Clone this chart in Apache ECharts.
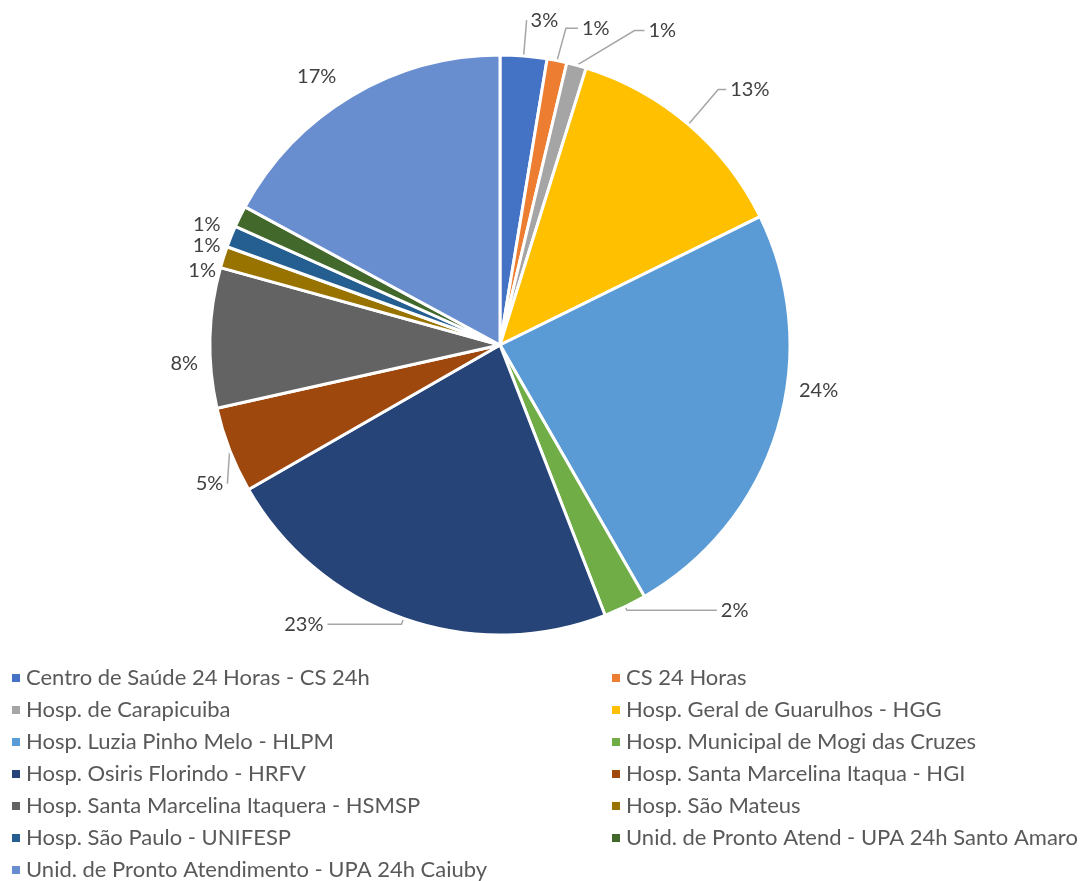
<!DOCTYPE html>
<html lang="pt-BR" style="height: 100%">
<head>
  <meta charset="utf-8">
</head>
<body style="height: 100%; margin: 0; background: #fff">
  <div id="container" style="width: 1084px; height: 881px"></div>

  <script type="text/javascript" src="https://fastly.jsdelivr.net/npm/echarts@6/dist/echarts.min.js"></script>

  <script type="text/javascript">
    var dom = document.getElementById('container');
    var myChart = echarts.init(dom, null, { renderer: 'canvas' });

    // unidades de atendimento (ordem da legenda / fatias)
    const categories = [
      'Centro de Saúde 24 Horas - CS 24h',
      'CS 24 Horas',
      'Hosp. de Carapicuiba',
      'Hosp. Geral de Guarulhos - HGG',
      'Hosp. Luzia Pinho Melo - HLPM',
      'Hosp. Municipal de Mogi das Cruzes',
      'Hosp. Osiris Florindo - HRFV',
      'Hosp. Santa Marcelina Itaqua - HGI',
      'Hosp. Santa Marcelina Itaquera - HSMSP',
      'Hosp. São Mateus',
      'Hosp. São Paulo - UNIFESP',
      'Unid. de Pronto Atend - UPA 24h Santo Amaro',
      'Unid. de Pronto Atendimento - UPA 24h Caiuby'
    ];
    // participação estimada (%) de cada unidade
    const values = [2.6, 1.1, 1.1, 12.9, 24.0, 2.4, 22.6, 4.8, 7.8, 1.2, 1.2, 1.2, 17.1];

    const colors = ['#4472C4', '#ED7D31', '#A5A5A5', '#FFC000', '#5B9BD5', '#70AD47',
      '#264478', '#9E480E', '#636363', '#997300', '#255E91', '#43682B', '#698ED0'];

    // ajuste das linhas de chamada por fatia: [mostrar, length, length2]
    const lines = [
      [true, 36, 0], [true, 30, 12], [true, 34, 10], [true, 46, 8], [false, 12, 0],
      [true, 4, 90], [true, 6, 74], [true, 10, 0], [false, 10, 0], [false, 6, 0],
      [false, 6, 0], [false, 6, 0], [false, 22, 0]
    ];
    // deslocamento fino dos rótulos (estilo "melhor ajuste")
    const nudges = {
      1: [3, -3],
      2: [49, -2],
      4: [6, -42],
      7: [7, 30],
      8: [2, 26],
      9: [2, 15],
      10: [-1, 11],
      11: [-10, 11]
    };

    const font = 'Lato, "Open Sans", sans-serif';

    const data = categories.map(function (name, i) {
      return {
        name: name,
        value: values[i],
        itemStyle: { color: colors[i] },
        labelLine: {
          show: lines[i][0],
          length: lines[i][1],
          length2: lines[i][2]
        }
      };
    });

    const leftNames = categories.filter(function (n, i) { return i % 2 === 0; });
    const rightNames = categories.filter(function (n, i) { return i % 2 === 1; });

    const legendBase = {
      orient: 'vertical',
      top: 667,
      height: 240,
      padding: 0,
      itemWidth: 10,
      itemHeight: 10,
      itemGap: 10,
      icon: 'rect',
      textStyle: {
        fontFamily: font,
        fontSize: 22,
        lineHeight: 22,
        color: '#595959'
      }
    };

    var option = {
      animation: false,
      backgroundColor: '#fff',
      legend: [
        Object.assign({ left: 10, data: leftNames }, legendBase),
        Object.assign({ left: 610, data: rightNames }, legendBase)
      ],
      series: [
        {
          type: 'pie',
          center: [500, 345],
          radius: [0, 290],
          startAngle: 90,
          clockwise: true,
          percentPrecision: 0,
          avoidLabelOverlap: false,
          itemStyle: {
            borderColor: '#fff',
            borderWidth: 3
          },
          label: {
            show: true,
            position: 'outside',
            formatter: '{d}%',
            fontFamily: font,
            fontSize: 20,
            color: '#404040',
            distanceToLabelLine: 4
          },
          labelLine: {
            lineStyle: { color: '#A6A6A6', width: 1.5 }
          },
          labelLayout: function (params) {
            var i = params.dataIndex;
            var n = nudges[i];
            if (!n) return {};
            var out = { dx: n[0], dy: n[1] };
            var pts = params.labelLinePoints;
            if (pts && lines[i][0]) {
              // redesenha a linha de chamada até o rótulo deslocado
              var r = params.labelRect;
              var cy = r.y + r.height / 2 + n[1];
              var onRight = pts[0][0] < r.x + r.width / 2;
              var gap = 4, tail = lines[i][2];
              var x2 = onRight ? r.x + n[0] - gap : r.x + r.width + n[0] + gap;
              var x1 = onRight ? x2 - tail : x2 + tail;
              out.labelLinePoints = [pts[0], [x1, cy], [x2, cy]];
            }
            return out;
          },
          emphasis: { disabled: true },
          data: data
        }
      ]
    };

    myChart.setOption(option);
    window.addEventListener('resize', myChart.resize);
  </script>
</body>
</html>
